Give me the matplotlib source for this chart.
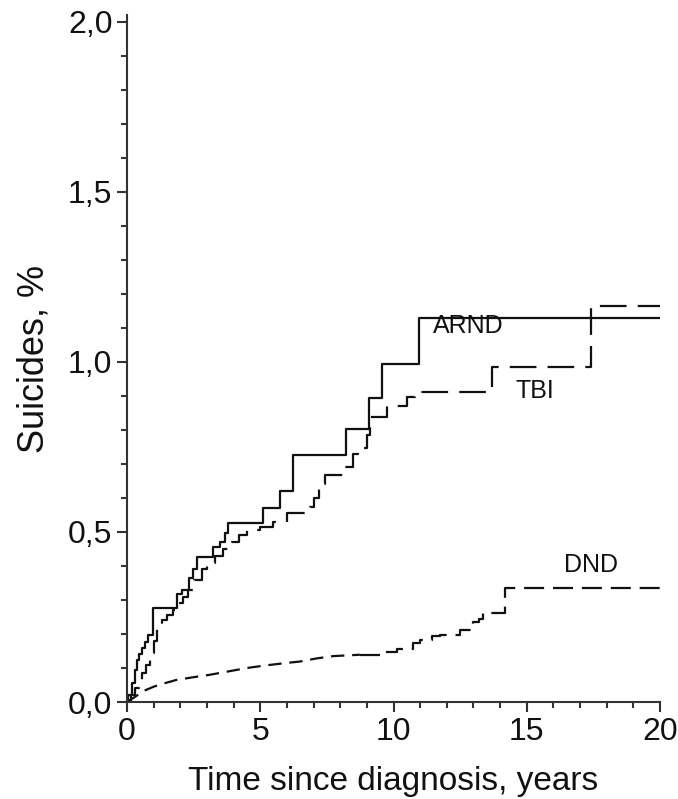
import matplotlib
matplotlib.use('Agg')
import matplotlib.pyplot as plt
from matplotlib.ticker import MultipleLocator, FuncFormatter

plt.rcParams['font.family'] = ['Liberation Sans', 'DejaVu Sans']

# cumulative suicide curves (years, %)
arnd_t = [0, 0.05, 0.17, 0.3, 0.36, 0.45, 0.55, 0.68, 0.8, 0.96, 1.89, 2.05, 2.34, 2.47,
          2.61, 3.24, 3.5, 3.68, 3.8, 5.12, 5.74, 6.24, 8.22, 9.09, 9.56, 10.97, 20]
arnd_y = [0, 0.02, 0.055, 0.094, 0.124, 0.14, 0.158, 0.177, 0.197, 0.277, 0.317, 0.33, 0.364, 0.39,
          0.425, 0.457, 0.47, 0.496, 0.527, 0.571, 0.62, 0.726, 0.803, 0.893, 0.994, 1.13, 1.13]

tbi_t = [0, 0.15, 0.3, 0.45, 0.55, 0.7, 0.86, 1.0, 1.11, 1.3, 1.49, 1.74, 1.9, 2.1, 2.3, 2.5,
         2.8, 3.0, 3.3, 3.6, 3.93, 4.2, 4.49, 5.0, 5.49, 6.0, 6.87, 7.0, 7.2, 7.43, 8.18, 8.49,
         8.68, 8.99, 9.12, 9.74, 10.49, 10.8, 13.7, 17.4, 20]
tbi_y = [0, 0.02, 0.04, 0.065, 0.085, 0.11, 0.143, 0.18, 0.22, 0.24, 0.256, 0.27, 0.29, 0.31, 0.33, 0.36,
         0.39, 0.408, 0.43, 0.45, 0.471, 0.49, 0.506, 0.515, 0.53, 0.557, 0.574, 0.6, 0.64, 0.668, 0.69, 0.73,
         0.746, 0.785, 0.839, 0.87, 0.898, 0.913, 0.985, 1.165, 1.165]

# DND: early part is dense (drawn as a plain line), later part as steps
dnd_t = [0, 0.3, 0.61, 1.0, 1.4, 1.86, 2.5, 3.1, 3.74, 4.5, 5.24, 6.0, 6.49, 7.1, 7.74, 8.74,
         9.62, 10.12, 10.74, 10.99, 11.43, 11.74, 12.49, 13.0, 13.2, 13.37, 14.2, 20]
dnd_y = [0, 0.015, 0.032, 0.045, 0.055, 0.065, 0.073, 0.08, 0.089, 0.1, 0.108, 0.115, 0.119, 0.128, 0.135, 0.139,
         0.146, 0.155, 0.173, 0.182, 0.194, 0.198, 0.212, 0.236, 0.245, 0.263, 0.335, 0.335]
dnd_split = 15

fig = plt.figure(figsize=(6.78, 7.99), dpi=100)
ax = fig.add_axes([0.1873, 0.1214, 0.7862, 0.8596])

lc = '#111111'
ax.plot(arnd_t, arnd_y, drawstyle='steps-post', color=lc, lw=1.6)
ax.plot(tbi_t, tbi_y, drawstyle='steps-post', color=lc, lw=1.6, dashes=(12, 5))
ax.plot(dnd_t[:dnd_split + 1], dnd_y[:dnd_split + 1], color=lc, lw=1.6, dashes=(6, 3.5))
ax.plot(dnd_t[dnd_split:], dnd_y[dnd_split:], drawstyle='steps-post', color=lc, lw=1.6, dashes=(9, 4))

ax.text(12.8, 1.106, 'ARND', fontsize=18, ha='center', va='center', color=lc)
ax.text(15.3, 0.915, 'TBI', fontsize=18, ha='center', va='center', color=lc)
ax.text(17.4, 0.403, 'DND', fontsize=18, ha='center', va='center', color=lc)

ax.set_xlim(0, 20)
ax.set_ylim(0, 2.02)
for s in ['top', 'right']:
    ax.spines[s].set_visible(False)
for s in ['left', 'bottom']:
    ax.spines[s].set_linewidth(1.5)
    ax.spines[s].set_color('#333333')

ax.xaxis.set_major_locator(MultipleLocator(5))
ax.xaxis.set_minor_locator(MultipleLocator(1))
ax.yaxis.set_major_locator(MultipleLocator(0.5))
ax.yaxis.set_minor_locator(MultipleLocator(0.1))
ax.yaxis.set_major_formatter(FuncFormatter(lambda v, p: ('%.1f' % v).replace('.', ',')))

ax.tick_params(which='major', length=7, width=1.5, color='#333333', labelsize=23, pad=3.5, labelcolor=lc)
ax.tick_params(which='minor', length=4.5, width=1.5, color='#333333')

ax.set_xlabel('Time since diagnosis, years', fontsize=24, color=lc, labelpad=14)
ax.set_ylabel('Suicides, %', fontsize=26, color=lc, labelpad=12)

plt.savefig('out.png', dpi=100)
